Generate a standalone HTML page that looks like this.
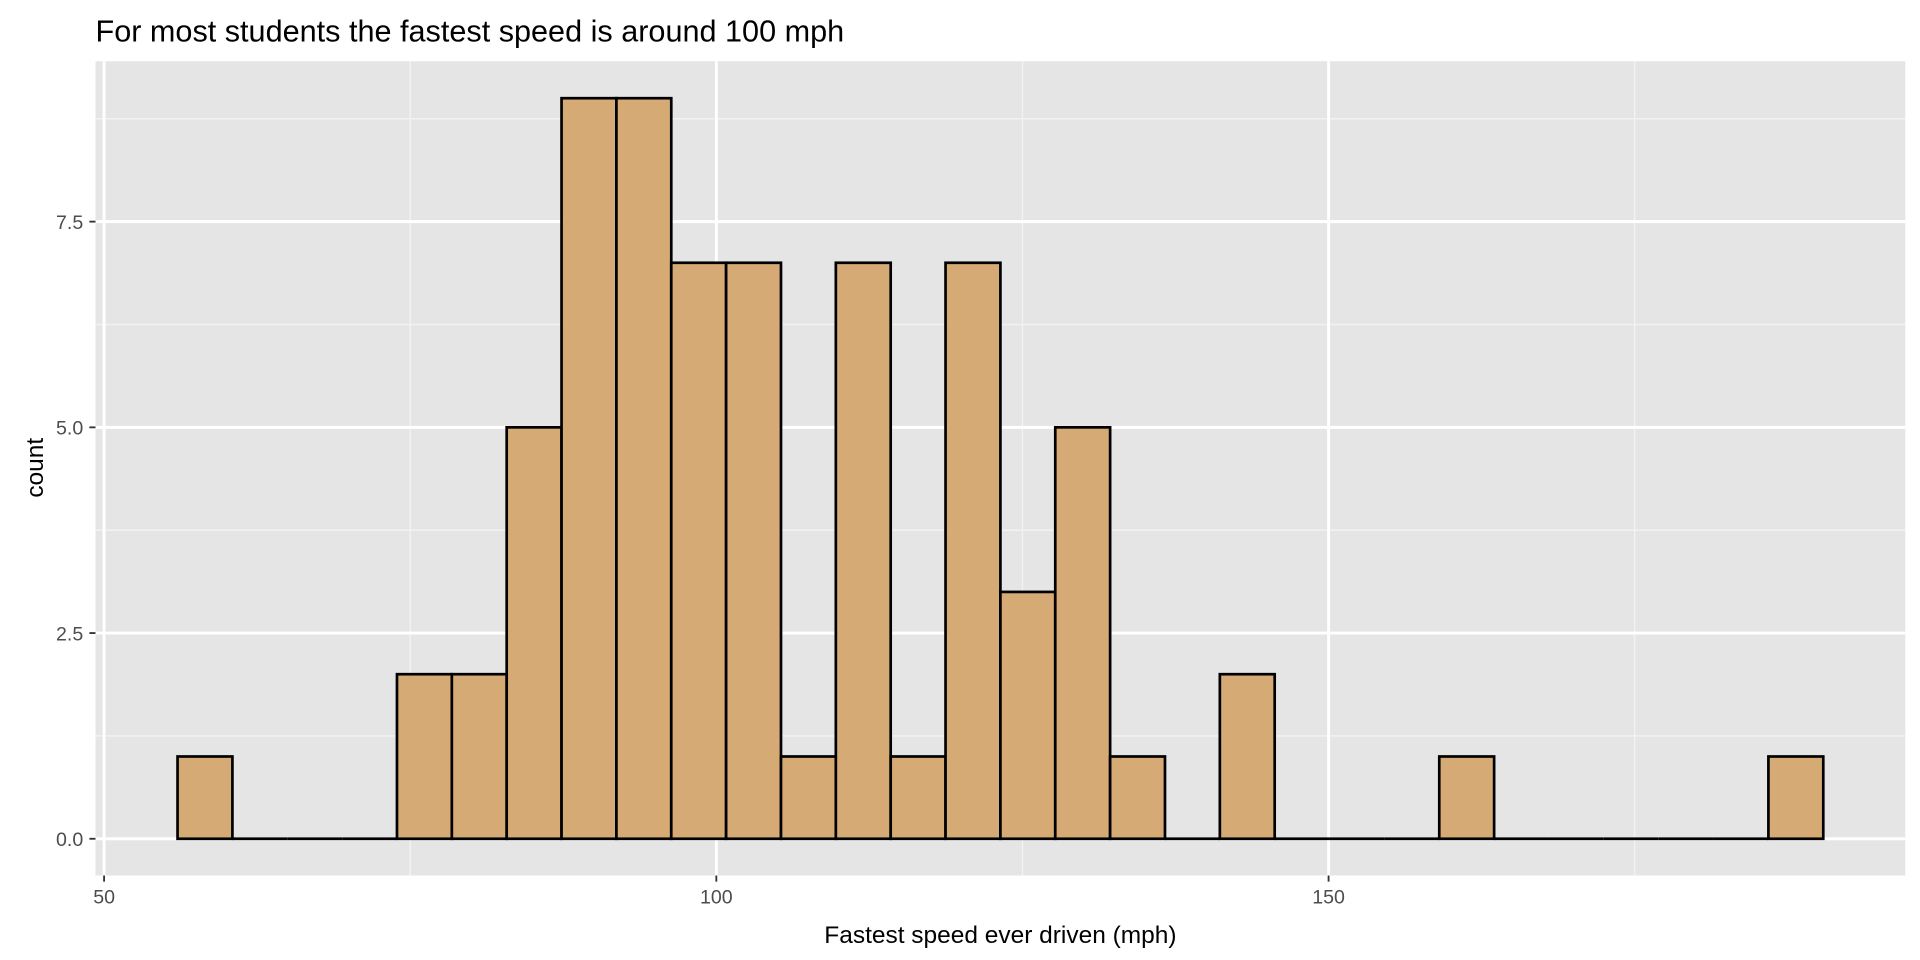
<!DOCTYPE html>
<html><head><meta charset="utf-8"><style>
html,body{margin:0;padding:0;background:#fff;}
svg{display:block;font-family:"Liberation Sans",Arial,sans-serif;}
</style></head><body>
<svg width="1920" height="960" viewBox="0 0 1568 784" preserveAspectRatio="none" xmlns="http://www.w3.org/2000/svg">
<rect width="1568" height="784" fill="#fff"/>
<text x="78" y="34" font-size="25" fill="#000">For most students the fastest speed is around 100 mph</text>
<rect x="78" y="50" width="1478" height="665" fill="#e5e5e5"/>
<g stroke="#f2f2f2" stroke-width="1.2">
<line x1="335" y1="50" x2="335" y2="715"/><line x1="835" y1="50" x2="835" y2="715"/><line x1="1335" y1="50" x2="1335" y2="715"/>
<line x1="78" y1="601" x2="1556" y2="601"/><line x1="78" y1="433" x2="1556" y2="433"/><line x1="78" y1="265" x2="1556" y2="265"/><line x1="78" y1="97" x2="1556" y2="97"/>
</g>
<g stroke="#fff" stroke-width="2.4">
<line x1="85" y1="50" x2="85" y2="715"/><line x1="585" y1="50" x2="585" y2="715"/><line x1="1085" y1="50" x2="1085" y2="715"/>
<line x1="78" y1="685" x2="1556" y2="685"/><line x1="78" y1="517" x2="1556" y2="517"/><line x1="78" y1="349" x2="1556" y2="349"/><line x1="78" y1="181" x2="1556" y2="181"/>
</g>
<g fill="#d6aa74" stroke="#000" stroke-width="2.2" id="bars"></g>
<g font-size="16" fill="#4d4d4d" text-anchor="end">
<text x="68" y="691">0.0</text><text x="68" y="523">2.5</text><text x="68" y="355">5.0</text><text x="68" y="187">7.5</text>
</g>
<g stroke="#333" stroke-width="1.5">
<line x1="73" y1="685" x2="78" y2="685"/><line x1="73" y1="517" x2="78" y2="517"/><line x1="73" y1="349" x2="78" y2="349"/><line x1="73" y1="181" x2="78" y2="181"/>
<line x1="85" y1="715" x2="85" y2="720"/><line x1="585" y1="715" x2="585" y2="720"/><line x1="1085" y1="715" x2="1085" y2="720"/>
</g>
<g font-size="16" fill="#4d4d4d" text-anchor="middle">
<text x="85" y="738">50</text><text x="585" y="738">100</text><text x="1085" y="738">150</text>
</g>
<text x="817" y="770" font-size="20" text-anchor="middle" fill="#000">Fastest speed ever driven (mph)</text>
<text transform="translate(35,382) rotate(-90)" font-size="20" text-anchor="middle" fill="#000">count</text>
</svg>
<script>
var c=[1,0,0,0,2,2,5,9,9,7,7,1,7,1,7,3,5,1,0,2,0,0,0,1,0,0,0,0,0,1];
var g=document.getElementById('bars'),ns='http://www.w3.org/2000/svg',w=44.8;
c.forEach(function(v,i){var r=document.createElementNS(ns,'rect');var h=v*67.2;
r.setAttribute('x',145+i*w);r.setAttribute('y',685-h);r.setAttribute('width',w);r.setAttribute('height',h);g.appendChild(r);
if(v===0){var l=document.createElementNS(ns,'line');l.setAttribute('x1',145+i*w);l.setAttribute('x2',145+(i+1)*w);l.setAttribute('y1',685);l.setAttribute('y2',685);g.appendChild(l);}});
</script>
</body></html>
